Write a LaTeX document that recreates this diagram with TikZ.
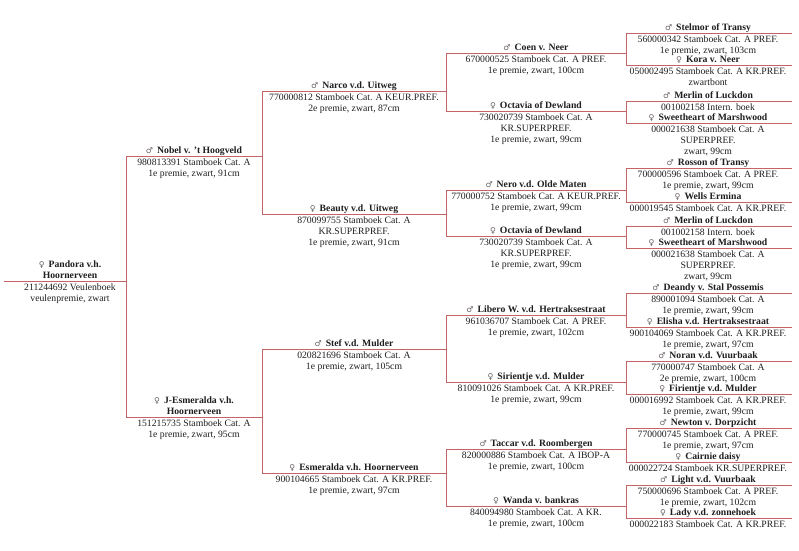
\documentclass[tikz,border=0pt]{standalone}
\usepackage{fontspec}
\setmainfont{Liberation Serif}
\newfontfamily\symf{DejaVu Sans}
\definecolor{lc}{RGB}{196,100,100}
\definecolor{symc}{RGB}{105,95,95}
\definecolor{txc}{RGB}{30,30,30}
\newcommand\msym{{\symf\fontsize{8}{8}\selectfont\color{symc}♂}\hspace{4pt}}
\newcommand\fsym{{\symf\fontsize{8}{8}\selectfont\color{symc}♀}\hspace{4pt}}
\tikzset{
  pline/.style={draw=lc, line width=0.8pt},
  namest/.style={font=\fontsize{9.7}{11.3}\selectfont\bfseries, anchor=base, inner sep=0pt, text=txc},
  detst/.style={font=\fontsize{9.7}{11.3}\selectfont, anchor=base, inner sep=0pt, text=txc},
}
% #1 id, #2 xl, #3 xr, #4 cx, #5 line y, #6 name, #7 detail lines
\newcommand\pp[7]{%
  \coordinate (#1-l) at (#2,#5);
  \coordinate (#1-r) at (#3,#5);
  \draw[pline] (#1-l) -- (#1-r);
  \node[namest] (#1) at (#4,{#5-2.7}) {#6};
  \foreach \t [count=\i] in {#7} {\node[detst] (#1-d\i) at (#4,{#5+9.3+11.3*(\i-1)}) {\t};}
}
\begin{document}
\begin{tikzpicture}[x=1pt,y=-1pt]
\useasboundingbox[fill=white] (0,0) rectangle (799,550);
% generation 0
\pp{pan}{4}{126}{70}{281}{Hoornerveen}{{211244692 Veulenboek},{veulenpremie, zwart}}
\node[namest] (pan-t) at (70,{281-2.7-11.3}) {\fsym Pandora v.h.};
% generation 1
\pp{nob}{126}{262}{194}{156}{\msym Nobel v. \symbol{39}t Hoogveld}{{980813391 Stamboek Cat. A},{1e premie, zwart, 91cm}}
\pp{jes}{126}{262}{194}{417}{Hoornerveen}{{151215735 Stamboek Cat. A},{1e premie, zwart, 95cm}}
\node[namest] (jes-t) at (194,{417-2.7-11.3}) {\fsym J-Esmeralda v.h.};
% generation 2
\pp{nar}{262}{446}{354}{91}{\msym Narco v.d. Uitweg}{{770000812 Stamboek Cat. A KEUR.PREF.},{2e premie, zwart, 87cm}}
\pp{bea}{262}{446}{354}{214}{\fsym Beauty v.d. Uitweg}{{870099755 Stamboek Cat. A},{KR.SUPERPREF.},{1e premie, zwart, 91cm}}
\pp{stf}{262}{446}{354}{349}{\msym Stef v.d. Mulder}{{020821696 Stamboek Cat. A},{1e premie, zwart, 105cm}}
\pp{esm}{262}{446}{354}{473}{\fsym Esmeralda v.h. Hoornerveen}{{900104665 Stamboek Cat. A KR.PREF.},{1e premie, zwart, 97cm}}
% generation 3
\pp{coe}{446}{626}{536}{53}{\msym Coen v. Neer}{{670000525 Stamboek Cat. A PREF.},{1e premie, zwart, 100cm}}
\pp{oca}{446}{626}{536}{111}{\fsym Octavia of Dewland}{{730020739 Stamboek Cat. A},{KR.SUPERPREF.},{1e premie, zwart, 99cm}}
\pp{ner}{446}{626}{536}{190}{\msym Nero v.d. Olde Maten}{{770000752 Stamboek Cat. A KEUR.PREF.},{1e premie, zwart, 99cm}}
\pp{ocb}{446}{626}{536}{236}{\fsym Octavia of Dewland}{{730020739 Stamboek Cat. A},{KR.SUPERPREF.},{1e premie, zwart, 99cm}}
\pp{lib}{446}{626}{536}{315}{\msym Libero W. v.d. Hertraksestraat}{{961036707 Stamboek Cat. A PREF.},{1e premie, zwart, 102cm}}
\pp{sir}{446}{626}{536}{382}{\fsym Sirientje v.d. Mulder}{{810091026 Stamboek Cat. A KR.PREF.},{1e premie, zwart, 99cm}}
\pp{tac}{446}{626}{536}{449}{\msym Taccar v.d. Roombergen}{{820000886 Stamboek Cat. A IBOP-A},{1e premie, zwart, 100cm}}
\pp{wan}{446}{626}{536}{506}{\fsym Wanda v. bankras}{{840094980 Stamboek Cat. A KR.},{1e premie, zwart, 100cm}}
% generation 4
\pp{stl}{626}{792}{708}{33}{\msym Stelmor of Transy}{{560000342 Stamboek Cat. A PREF.},{1e premie, zwart, 103cm}}
\pp{kor}{626}{792}{708}{65}{\fsym Kora v. Neer}{{050002495 Stamboek Cat. A KR.PREF.},{zwartbont}}
\pp{mea}{626}{792}{708}{101}{\msym Merlin of Luckdon}{{001002158 Intern. boek}}
\pp{swa}{626}{792}{708}{123}{\fsym Sweetheart of Marshwood}{{000021638 Stamboek Cat. A},{SUPERPREF.},{zwart, 99cm}}
\pp{ros}{626}{792}{708}{168}{\msym Rosson of Transy}{{700000596 Stamboek Cat. A PREF.},{1e premie, zwart, 99cm}}
\pp{wel}{626}{792}{708}{202}{\fsym Wells Ermina}{{000019545 Stamboek Cat. A KR.PREF.}}
\pp{meb}{626}{792}{708}{226}{\msym Merlin of Luckdon}{{001002158 Intern. boek}}
\pp{swb}{626}{792}{708}{248}{\fsym Sweetheart of Marshwood}{{000021638 Stamboek Cat. A},{SUPERPREF.},{zwart, 99cm}}
\pp{dea}{626}{792}{708}{293}{\msym Deandy v. Stal Possemis}{{890001094 Stamboek Cat. A},{1e premie, zwart, 99cm}}
\pp{eli}{626}{792}{708}{327}{\fsym Elisha v.d. Hertraksestraat}{{900104069 Stamboek Cat. A KR.PREF.},{1e premie, zwart, 97cm}}
\pp{nor}{626}{792}{708}{361}{\msym Noran v.d. Vuurbaak}{{770000747 Stamboek Cat. A},{2e premie, zwart, 100cm}}
\pp{fir}{626}{792}{708}{394}{\fsym Firientje v.d. Mulder}{{000016992 Stamboek Cat. A KR.PREF.},{1e premie, zwart, 99cm}}
\pp{new}{626}{792}{708}{428}{\msym Newton v. Dorpzicht}{{770000745 Stamboek Cat. A PREF.},{1e premie, zwart, 97cm}}
\pp{cai}{626}{792}{708}{462}{\fsym Cairnie daisy}{{000022724 Stamboek KR.SUPERPREF.}}
\pp{lig}{626}{792}{708}{485}{\msym Light v.d. Vuurbaak}{{750000696 Stamboek Cat. A PREF.},{1e premie, zwart, 102cm}}
\pp{lad}{626}{792}{708}{518}{\fsym Lady v.d. zonnehoek}{{000022183 Stamboek Cat. A KR.PREF.}}
% brackets
\draw[pline] (nob-l) -- (jes-l);
\draw[pline] (nar-l) -- (bea-l);
\draw[pline] (stf-l) -- (esm-l);
\draw[pline] (coe-l) -- (oca-l);
\draw[pline] (ner-l) -- (ocb-l);
\draw[pline] (lib-l) -- (sir-l);
\draw[pline] (tac-l) -- (wan-l);
\draw[pline] (stl-l) -- (kor-l);
\draw[pline] (mea-l) -- (swa-l);
\draw[pline] (ros-l) -- (wel-l);
\draw[pline] (meb-l) -- (swb-l);
\draw[pline] (dea-l) -- (eli-l);
\draw[pline] (nor-l) -- (fir-l);
\draw[pline] (new-l) -- (cai-l);
\draw[pline] (lig-l) -- (lad-l);
\end{tikzpicture}
\end{document}
